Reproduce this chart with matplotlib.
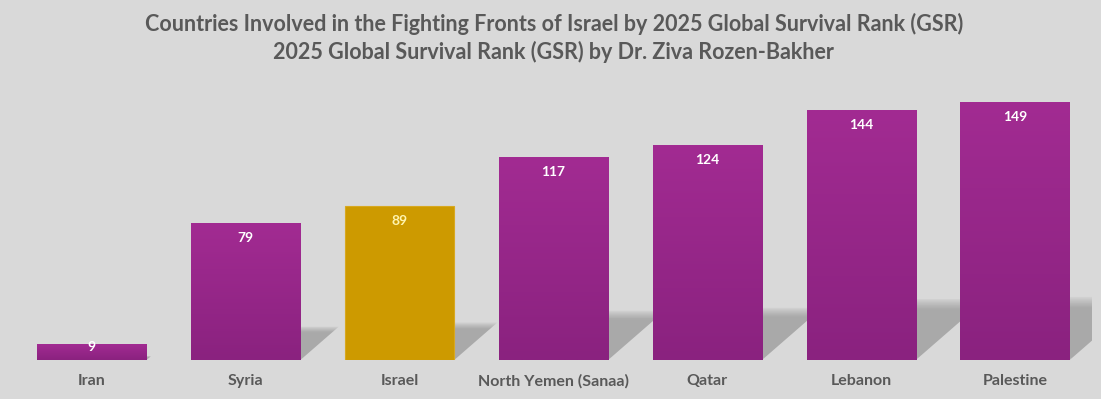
import matplotlib
matplotlib.use("Agg")
import matplotlib.pyplot as plt
import numpy as np
from matplotlib.patches import Polygon

countries = ["Iran", "Syria", "Israel", "North Yemen (Sanaa)", "Qatar", "Lebanon", "Palestine"]
ranks = [9, 79, 89, 117, 124, 144, 149]
highlight = "Israel"

title1 = "Countries Involved in the Fighting Fronts of Israel by 2025 Global Survival Rank (GSR)"
title2 = "2025 Global Survival Rank (GSR) by Dr. Ziva Rozen-Bakher"

FONT = ["Lato", "DejaVu Sans"]
BG = "#d9d9d9"
TXT = "#595959"
PURPLE_TOP = "#a22b92"
PURPLE_BOT = "#8a227f"
GOLD = "#cd9a00"

AX_L, AX_W, AX_B, AX_H = 15, 1077, 39, 277
fig = plt.figure(figsize=(11.01, 3.99), dpi=100, facecolor=BG)
ax = fig.add_axes([AX_L / 1101, AX_B / 399, AX_W / 1101, AX_H / 399], facecolor=BG)

x = np.arange(len(countries))
width = 0.71
bars = ax.bar(x, ranks, width=width, color="none", edgecolor="none", zorder=3)

YMAX = 160
px_per_x = AX_W / len(countries)
px_per_y = AX_H / YMAX

# shadows (skewed, fading at the top)
for xi, v in zip(x, ranks):
    xl, xr = xi - width / 2, xi + width / 2
    hs = 0.245 * v
    dx = 1.15 * hs * px_per_y / px_per_x
    poly = Polygon([(xl, 0), (xr, 0), (xr + dx, hs), (xl + dx, hs)], closed=True,
                   facecolor="none", edgecolor="none")
    ax.add_patch(poly)
    t = np.linspace(0, 1, 200)[:, None]
    alpha = np.clip((1 - t) / 0.18, 0, 1) ** 0.8 * 0.22
    alpha = alpha * np.clip(t / 0.1 + 0.6, 0, 1)
    img = np.zeros((200, 2, 4))
    img[..., 3] = alpha
    im = ax.imshow(img, extent=[xl, xr + dx, 0, hs], origin="lower", aspect="auto",
                   zorder=2, interpolation="bilinear")
    im.set_clip_path(poly)

def hex2rgb(h):
    h = h.lstrip("#")
    return np.array([int(h[i:i + 2], 16) / 255 for i in (0, 2, 4)])

top_c, bot_c = hex2rgb(PURPLE_TOP), hex2rgb(PURPLE_BOT)
for rect, name, v in zip(bars.patches, countries, ranks):
    x0 = rect.get_x()
    w = rect.get_width()
    if name == highlight:
        ax.add_patch(plt.Rectangle((x0, 0), w, v, facecolor=GOLD, edgecolor="#d8a820",
                                   linewidth=0.8, zorder=3))
    else:
        t = np.linspace(0, 1, 200)[:, None]
        col = bot_c[None, :] * (1 - t) + top_c[None, :] * t
        img = col[:, None, :].repeat(2, axis=1)
        ax.imshow(img, extent=[x0, x0 + w, 0, v], origin="lower", aspect="auto",
                  zorder=3, interpolation="bilinear")

ax.set_xlim(-0.5, len(countries) - 0.5)
ax.set_ylim(0, YMAX)

# value labels
for xi, name, v in zip(x, countries, ranks):
    off = 8.5 if v > 25 else 1.5
    ax.text(xi, v - off, str(v), ha="center", va="center", fontsize=10, fontweight="bold",
            color="#fff4b0" if name == highlight else "white", family=FONT, zorder=5)

ax.set_xticks(x)
ax.set_xticklabels(countries, fontsize=11.5, fontweight="bold", color=TXT, family=FONT)
ax.tick_params(axis="x", length=0, pad=10)
ax.set_yticks([])
for s in ax.spines.values():
    s.set_visible(False)

fig.text(0.503, 1 - 24 / 399, title1, ha="center", va="center", fontsize=15.5,
         fontweight="bold", color=TXT, family=FONT)
fig.text(0.503, 1 - 52 / 399, title2, ha="center", va="center", fontsize=15.5,
         fontweight="bold", color=TXT, family=FONT)

fig.savefig("out.png", dpi=100, facecolor=BG)
